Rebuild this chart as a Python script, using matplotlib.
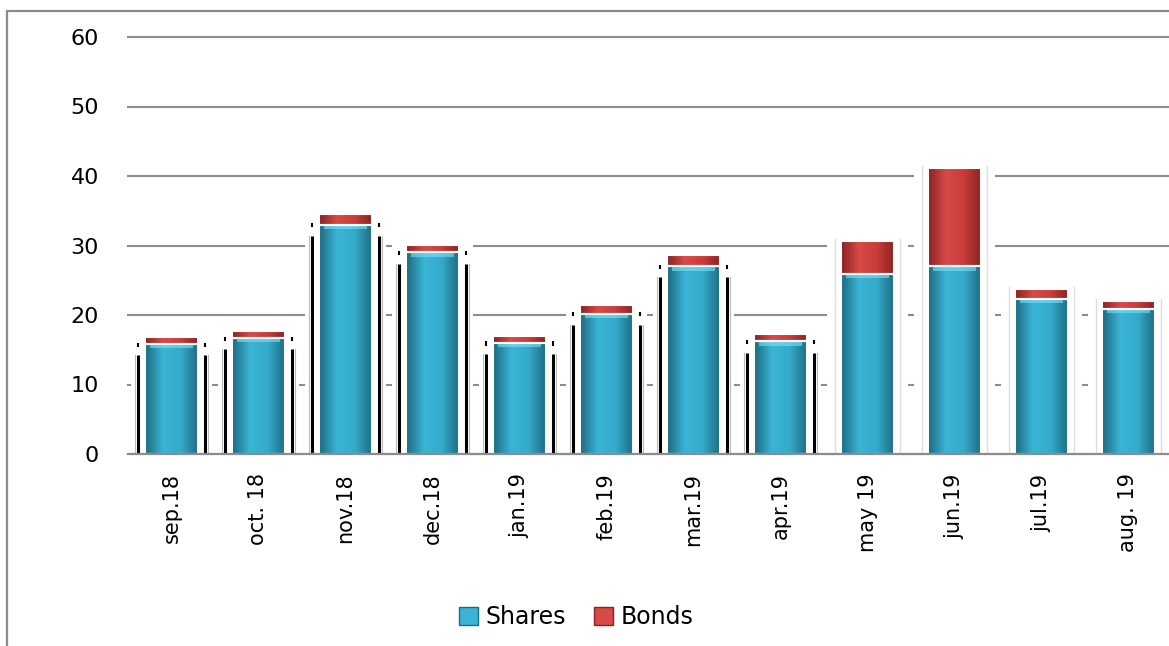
import matplotlib.pyplot as plt
import numpy as np
from matplotlib.colors import LinearSegmentedColormap
from matplotlib.patches import Rectangle, Patch

# data
months = ['sep.18', 'oct. 18', 'nov.18', 'dec.18', 'jan.19', 'feb.19',
          'mar.19', 'apr.19', 'may 19', 'jun.19', 'jul.19', 'aug. 19']
shares = [15.8, 16.7, 33.0, 29.0, 16.0, 20.2, 27.0, 16.2, 25.9, 27.0, 22.3, 20.9]
bonds = [1.0, 1.0, 1.6, 1.1, 1.0, 1.2, 1.6, 1.1, 4.8, 14.2, 1.4, 1.1]

share_col = ['#1d6b80', '#3ab4d6', '#35aacb', '#1d6b80']
bond_col = ['#8a2221', '#d84a48', '#c93c3a', '#8a2221']
grid_col = '#8c8c8c'

fig = plt.figure(figsize=(11.69, 6.46), dpi=100)
ax = fig.add_axes([128 / 1169, 1 - 454 / 646, 1044 / 1169, 417 / 646])

x = np.arange(len(months))
shares = np.array(shares)
bonds = np.array(bonds)
totals = shares + bonds
bw = 0.62

ax.set_xlim(-0.5, len(months) - 0.5)
ax.set_ylim(0, 60)
ax.set_yticks(range(0, 61, 10))
for yv in range(10, 61, 10):
    ax.axhline(yv, color=grid_col, lw=1.5, zorder=0, clip_on=False)

# white "halo" boxes behind bars (they cut the gridlines)
ax.bar(x, totals + 0.8, width=0.92, color='white', lw=0, zorder=2)
# dark shadow lines at both sides of the first bars
for i in range(8):
    for side in (-1, 1):
        xs = x[i] + side * 0.39
        ax.plot([xs, xs], [0, shares[i] - 1.6], color='black', lw=2.2,
                zorder=2.5, solid_capstyle='butt')
        ax.plot([xs + side * 0.03] * 2, [0, shares[i] - 1.6], color='#bbbbbb',
                lw=0.8, zorder=2.4)
        ax.plot([xs, xs], [shares[i] - 0.4, shares[i] + 0.2], color='black',
                lw=1.5, zorder=2.5, solid_capstyle='butt')
# faint edges of halo for the later bars
for i in range(8, len(months)):
    for side in (-1, 1):
        xs = x[i] + side * 0.37
        ax.plot([xs, xs], [0, totals[i] + 0.3], color='#dddddd', lw=1.0,
                zorder=2.4)


def shaded(bars, cols):
    cmap = LinearSegmentedColormap.from_list('c', cols)
    grad = np.linspace(0, 1, 64)[None, :]
    for b in bars:
        x0, y0 = b.get_x(), b.get_y()
        w, h = b.get_width(), b.get_height()
        im = ax.imshow(grad, cmap=cmap, aspect='auto', zorder=3,
                       extent=(x0, x0 + w, y0, y0 + h), interpolation='bicubic')
        im.set_clip_path(b)


sb = ax.bar(x, shares, width=bw, color=share_col[2], edgecolor='white',
            lw=1.5, zorder=3)
bb = ax.bar(x, bonds, bottom=shares, width=bw, color=bond_col[2],
            edgecolor='white', lw=1.5, zorder=3)
shaded(sb, share_col)
shaded(bb, bond_col)
# light cap at the top of each share bar
ax.bar(x, 0.5, bottom=shares - 0.6, width=bw * 0.8, color='#7fe3f5',
       alpha=0.6, lw=0, zorder=3.5)
for b in list(sb) + list(bb):
    ax.add_patch(Rectangle((b.get_x(), b.get_y()), b.get_width(), b.get_height(),
                           fill=False, edgecolor='white', lw=1.5, zorder=4))

ax.set_xticks(x)
ax.set_xticklabels(months, rotation=90, fontsize=15)
ax.tick_params(axis='y', labelsize=16, length=0, pad=21)
ax.tick_params(axis='x', length=0, pad=14)
for s in ['left', 'right', 'top']:
    ax.spines[s].set_visible(False)
ax.spines['bottom'].set_color(grid_col)
ax.spines['bottom'].set_linewidth(1.6)
ax.spines['bottom'].set_zorder(5)

# outer frame (partly cut by the image edge)
fig.patches.append(Rectangle((7 / 1169, -0.2), 1.2, 1.2 - 11 / 646,
                             transform=fig.transFigure, fill=False,
                             edgecolor=grid_col, lw=1.6))

handles = [Patch(facecolor=share_col[1], edgecolor=share_col[0], label='Shares'),
           Patch(facecolor=bond_col[1], edgecolor=bond_col[0], label='Bonds')]
fig.legend(handles=handles, loc='center', bbox_to_anchor=(0.493, 0.045), ncol=2,
           frameon=False, fontsize=17, handlelength=0.8, handleheight=0.8,
           handletextpad=0.3, columnspacing=1.2)

fig.savefig('out.png', dpi=100)
